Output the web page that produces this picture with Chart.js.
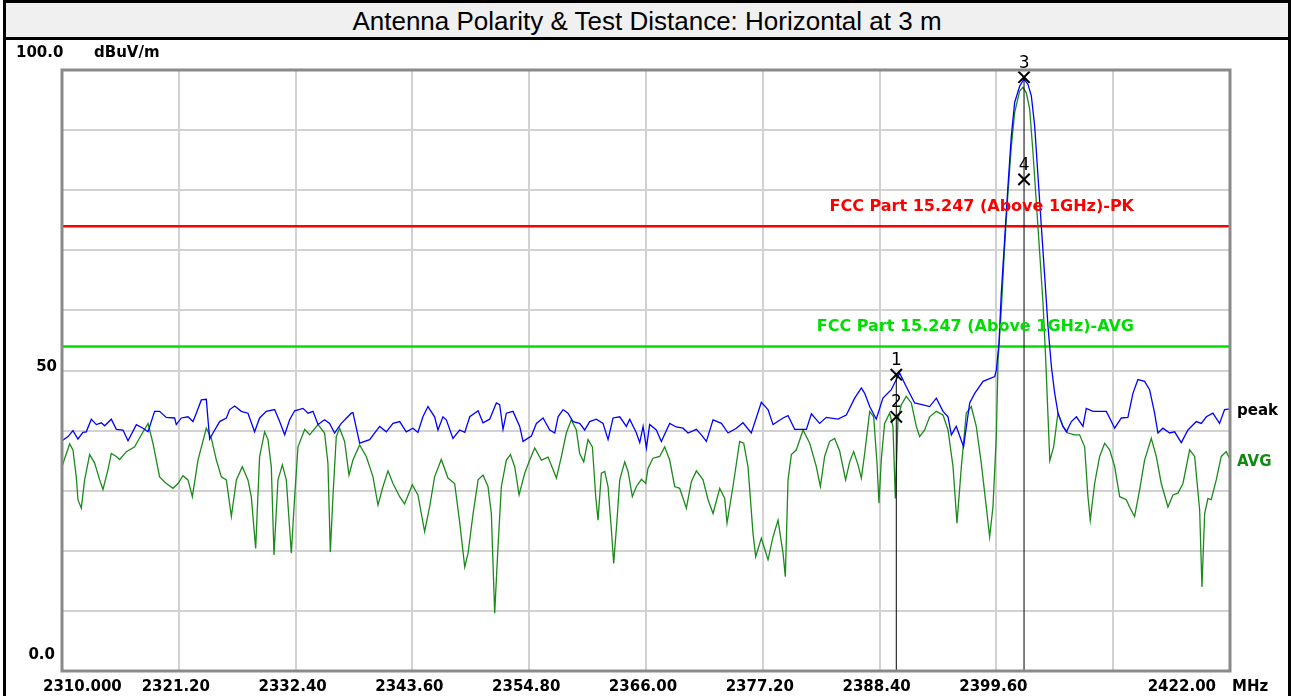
<!DOCTYPE html>
<html>
<head>
<meta charset="utf-8">
<script src="https://cdn.jsdelivr.net/npm/chart.js@4.4.0/dist/chart.umd.min.js"></script>
<style>
  html, body { margin: 0; padding: 0; background: #fff; }
  #wrap { position: relative; width: 1294px; height: 696px; overflow: hidden; }
  #chart { position: absolute; left: 0; top: 0; }
  #frame { position: absolute; left: 3px; top: 0; width: 1282px; height: 710px; border: 3px solid #000; pointer-events: none; }
  #title { position: absolute; left: 6px; top: 3px; width: 1282px; height: 34px; background: #f0f0f0; border-bottom: 3px solid #000;
           font: 26px "Liberation Sans", Arial, sans-serif; text-align: center; line-height: 37px; color: #000; }
</style>
</head>
<body>
<div id="wrap">
  <canvas id="chart" width="1294" height="696"></canvas>
  <div id="title">Antenna Polarity &amp; Test Distance: Horizontal at 3 m</div>
  <div id="frame"></div>
</div>
<script>
// frequency axis (MHz)
const xTickValues = [2310, 2321.2, 2332.4, 2343.6, 2354.8, 2366, 2377.2, 2388.4, 2399.6, 2410.8, 2422];
const xTickLabels = ['2310.000', '2321.20', '2332.40', '2343.60', '2354.80', '2366.00', '2377.20', '2388.40', '2399.60', '', '2422.00'];
const xUnit = 'MHz';
const yUnit = 'dBuV/m';
const yLabelValues = [100, 50, 0];
const yLabelTexts = ['100.0', '50', '0.0'];

// peak trace
const peakFreq = [2310.00,2310.58,2311.05,2311.53,2312.01,2312.33,2312.81,2313.29,2313.77,2314.09,2314.73,2315.21,2315.85,2316.33,2317.13,2317.77,2318.25,2318.88,2319.36,2320.00,2320.80,2320.96,2321.44,2322.08,2322.56,2322.88,2323.36,2323.84,2324.00,2324.16,2324.48,2325.12,2325.76,2326.08,2326.56,2327.19,2327.83,2328.47,2328.95,2329.59,2330.39,2330.87,2331.35,2331.83,2332.31,2333.11,2333.59,2334.07,2334.55,2335.18,2335.66,2336.14,2336.78,2337.74,2337.90,2338.54,2339.50,2340.46,2341.10,2341.74,2342.38,2343.01,2343.65,2344.13,2344.61,2345.09,2345.73,2346.05,2346.53,2346.85,2347.49,2348.13,2348.62,2349.10,2349.90,2350.37,2351.01,2351.65,2351.97,2352.29,2352.61,2353.25,2353.89,2354.21,2355.01,2355.49,2356.13,2356.77,2357.25,2357.57,2358.05,2358.52,2359.00,2359.64,2360.12,2360.60,2361.24,2361.88,2362.36,2362.84,2363.48,2364.12,2364.44,2365.08,2365.40,2365.72,2366.04,2366.35,2366.99,2367.47,2368.27,2368.91,2369.55,2370.03,2370.83,2371.31,2371.79,2372.43,2373.23,2373.87,2374.66,2375.30,2376.10,2377.06,2377.70,2378.18,2379.14,2379.62,2380.26,2381.38,2381.86,2382.65,2383.29,2384.41,2385.21,2386.01,2386.65,2386.97,2387.45,2388.08,2388.72,2389.52,2390.32,2390.96,2391.76,2392.56,2393.20,2393.84,2394.48,2394.96,2395.28,2395.75,2396.45,2397.04,2397.52,2398.32,2399.44,2399.60,2399.85,2400.07,2400.39,2400.71,2401.03,2401.35,2401.83,2402.25,2402.63,2402.95,2403.27,2403.59,2403.91,2404.23,2404.55,2404.87,2405.19,2405.51,2405.99,2406.31,2406.79,2407.27,2407.90,2408.22,2408.86,2409.50,2410.14,2410.46,2410.94,2411.58,2412.21,2412.69,2413.17,2413.81,2414.29,2414.77,2415.09,2415.57,2416.21,2416.69,2417.33,2417.97,2418.77,2419.25,2419.73,2420.36,2421.00,2421.48,2422.00];
const peakLevel = [38.3,39.0,40.0,38.6,39.7,39.8,41.9,41.0,41.3,40.8,41.9,40.2,40.1,38.3,41.0,40.4,39.8,43.2,43.2,42.2,42.1,41.0,42.1,42.3,41.5,42.9,45.1,45.2,41.8,38.6,39.6,41.5,42.1,43.5,44.1,43.2,42.9,39.8,42.1,43.2,43.5,41.5,39.3,41.8,43.3,43.7,42.9,43.2,41.0,41.8,41.2,39.6,41.2,42.9,43.0,37.9,38.5,40.7,39.8,41.2,41.5,39.8,40.4,39.7,42.3,44.0,42.3,40.1,42.3,41.8,38.7,40.1,39.7,42.3,43.3,41.3,41.9,44.6,44.3,40.2,42.9,43.2,40.7,38.2,39.1,41.2,42.1,40.1,39.6,42.3,43.5,42.9,41.5,41.2,40.1,41.5,41.9,41.2,38.5,42.1,42.3,40.7,41.9,39.6,38.0,40.7,37.1,41.0,40.1,38.2,41.2,40.6,40.4,39.6,40.2,39.3,38.2,41.8,41.2,39.6,40.4,41.3,39.6,44.7,43.5,41.0,42.1,42.5,40.2,40.2,42.8,41.2,42.2,41.9,42.6,45.4,47.1,46.2,44.0,41.9,45.4,46.8,49.6,47.3,44.6,44.3,44.0,45.4,43.2,42.3,39.3,40.7,37.3,44.6,46.2,48.2,49.0,50.1,54.6,62.9,71.8,80.7,89.0,94.6,97.3,98.5,97.6,95.7,90.7,82.3,74.0,65.7,57.3,50.7,46.2,42.9,40.7,39.8,41.5,42.3,40.7,43.7,43.2,43.2,43.2,42.1,40.4,42.1,42.2,46.2,48.5,48.2,46.8,42.9,39.6,40.4,39.6,39.8,38.0,40.1,41.5,41.2,42.3,42.9,41.2,43.5,43.6];

// average trace
const avgFreq = [2310.00,2310.42,2310.74,2311.05,2311.37,2311.53,2311.85,2312.17,2312.65,2313.13,2313.61,2313.93,2314.41,2314.73,2315.21,2315.53,2316.17,2316.97,2317.61,2318.25,2318.72,2319.36,2320.00,2320.64,2321.12,2321.60,2322.08,2322.50,2323.04,2323.84,2324.32,2324.80,2325.28,2325.76,2326.24,2326.72,2327.29,2327.83,2328.15,2328.57,2328.95,2329.43,2329.75,2330.07,2330.33,2330.71,2331.13,2331.51,2331.99,2332.31,2332.63,2333.27,2333.75,2334.55,2335.18,2335.50,2335.73,2335.98,2336.30,2336.62,2337.10,2337.52,2337.90,2338.54,2339.18,2339.82,2340.30,2340.78,2341.26,2341.74,2342.38,2342.85,2343.59,2344.13,2344.77,2345.25,2345.73,2346.37,2347.01,2347.65,2348.13,2348.62,2348.94,2349.42,2349.90,2350.37,2350.85,2351.17,2351.49,2351.81,2352.13,2352.61,2353.00,2353.41,2353.83,2354.37,2354.85,2355.33,2355.97,2356.61,2357.41,2357.89,2358.36,2358.84,2359.32,2359.64,2360.03,2360.44,2360.86,2361.18,2361.40,2361.72,2362.04,2362.36,2362.68,2362.90,2363.22,2363.48,2363.96,2364.28,2364.69,2365.08,2365.56,2365.97,2366.19,2366.67,2367.31,2367.79,2368.27,2368.75,2369.23,2369.87,2370.35,2370.83,2371.47,2371.95,2372.43,2373.07,2373.55,2373.77,2374.34,2374.98,2375.37,2375.78,2376.26,2376.52,2377.06,2377.70,2378.18,2378.66,2379.14,2379.36,2379.62,2379.94,2380.42,2381.06,2381.70,2382.33,2382.72,2383.13,2383.61,2384.09,2384.57,2385.14,2385.53,2385.91,2386.33,2386.65,2386.97,2387.45,2387.83,2388.15,2388.34,2388.56,2388.88,2389.36,2389.68,2389.91,2390.16,2390.48,2390.96,2391.44,2391.92,2392.24,2392.72,2393.20,2393.84,2394.48,2394.96,2395.44,2395.82,2396.24,2396.71,2397.19,2397.67,2398.15,2398.63,2398.95,2399.27,2399.59,2399.76,2400.07,2400.39,2400.71,2401.03,2401.35,2401.83,2402.15,2402.47,2402.79,2403.11,2403.43,2403.75,2404.07,2404.33,2404.72,2405.09,2405.50,2405.98,2406.46,2407.10,2407.58,2408.06,2408.38,2408.60,2409.02,2409.50,2409.98,2410.46,2410.94,2411.42,2412.06,2412.37,2412.85,2413.33,2413.81,2414.45,2414.93,2415.41,2416.05,2416.53,2417.01,2417.49,2418.13,2418.61,2419.09,2419.31,2419.57,2419.88,2420.20,2420.68,2421.16,2421.64,2422.00];
const avgLevel = [34.0,36.2,37.8,36.8,32.3,28.5,27.1,31.8,36.0,34.6,31.8,30.2,33.5,36.2,35.7,35.2,36.5,37.3,39.3,41.2,37.9,32.3,31.2,30.4,31.2,32.5,31.8,29.0,35.1,40.4,38.7,35.1,32.3,31.8,25.7,31.8,34.0,31.8,29.0,20.4,35.7,39.8,38.5,34.0,19.3,31.8,34.3,31.8,19.6,29.0,37.3,40.2,39.3,41.0,39.6,34.6,19.8,29.0,39.0,40.4,38.2,32.6,35.1,37.6,35.7,32.3,27.6,30.7,33.3,31.2,29.0,27.8,31.0,29.3,23.2,27.3,32.3,35.2,32.1,31.2,24.8,17.3,19.6,26.2,31.8,32.6,30.7,26.2,9.6,20.7,30.7,35.1,36.0,34.0,29.3,32.9,35.1,37.1,35.1,35.6,32.1,35.7,39.6,41.8,40.1,36.2,34.8,38.5,37.3,29.0,25.1,32.9,33.2,30.7,23.5,17.9,25.1,31.8,34.8,33.2,29.0,30.7,31.9,31.2,33.7,35.4,35.7,37.3,35.1,30.7,30.4,27.1,31.5,33.3,31.8,28.5,26.2,30.4,28.7,24.6,30.7,38.2,37.9,34.0,22.9,19.0,22.1,18.5,22.3,25.1,19.6,15.7,31.8,36.0,36.8,40.1,37.9,34.0,30.7,35.7,38.2,38.7,36.6,31.8,34.8,36.5,34.3,32.1,36.2,43.2,42.3,34.6,27.9,35.1,41.2,42.9,40.7,28.7,41.8,44.3,45.7,44.6,40.7,39.0,40.1,42.3,43.2,42.6,40.1,34.0,24.6,34.0,42.9,44.0,40.7,34.6,27.3,22.3,27.3,39.0,51.8,60.1,70.7,79.6,87.3,92.9,96.5,97.1,96.2,93.5,86.2,77.9,69.6,61.2,51.8,35.0,37.3,42.9,40.7,39.6,39.3,39.3,37.3,29.0,25.1,31.2,35.7,37.9,36.8,34.0,29.0,28.5,27.3,25.7,30.1,35.1,38.7,35.7,31.2,27.3,29.3,29.6,31.2,36.8,35.7,26.8,14.0,26.2,28.7,28.5,31.8,35.7,36.5,35.2];

// limit lines
const limitFreq = [2310, 2422];
const pkLimit = 74;
const avgLimit = 54;
const pkLimitName = 'FCC Part 15.247 (Above 1GHz)-PK';
const avgLimitName = 'FCC Part 15.247 (Above 1GHz)-AVG';

// markers
const markerNames = ['1', '2', '3', '4'];
const markerFreq = [2390.0, 2390.0, 2402.25, 2402.25];
const markerLevel = [49.3, 42.3, 98.8, 81.8];

const toXY = (xs, ys) => xs.map((v, i) => ({ x: v, y: ys[i] }));

// one vertical line per marker frequency, up to the highest marker there
const markerLines = [...new Set(markerFreq)].map(f => {
  const top = Math.max(...markerLevel.filter((_, i) => markerFreq[i] === f));
  return { label: 'mk ' + f, data: [{ x: f, y: 0 }, { x: f, y: top }], borderColor: '#000', borderWidth: 1, pointRadius: 0 };
});

const decor = {
  id: 'decor',
  afterDatasetsDraw(chart) {
    const { ctx, chartArea: a, scales: { x, y } } = chart;
    ctx.save();
    ctx.strokeStyle = '#8a8a8a';
    ctx.lineWidth = 3;
    ctx.strokeRect(a.left, a.top, a.right - a.left, a.bottom - a.top);

    // limit names
    ctx.font = 'bold 16px "DejaVu Sans"';
    ctx.textAlign = 'right';
    ctx.textBaseline = 'middle';
    const lx = a.right - 96;
    ctx.fillStyle = '#ff0000';
    ctx.fillText(pkLimitName, lx, y.getPixelForValue(pkLimit) - 19);
    ctx.fillStyle = '#00dd00';
    ctx.fillText(avgLimitName, lx, y.getPixelForValue(avgLimit) - 20);

    // marker numbers
    ctx.font = '17px "DejaVu Sans"';
    ctx.textAlign = 'center';
    ctx.fillStyle = '#000';
    markerNames.forEach((n, i) => {
      ctx.fillText(n, x.getPixelForValue(markerFreq[i]), y.getPixelForValue(markerLevel[i]) - 14);
    });

    // trace names at right end
    ctx.font = 'bold 15px "DejaVu Sans"';
    ctx.textAlign = 'left';
    ctx.fillStyle = '#000';
    ctx.fillText('peak', a.right + 7, y.getPixelForValue(peakLevel[peakLevel.length - 1]) + 2);
    ctx.fillStyle = '#128a12';
    ctx.fillText('AVG', a.right + 7, y.getPixelForValue(avgLevel[avgLevel.length - 1]) + 3);

    // y labels
    ctx.fillStyle = '#000';
    yLabelValues.forEach((v, i) => {
      let py = y.getPixelForValue(v);
      if (v === 100) {
        ctx.textAlign = 'left';
        ctx.fillText(yLabelTexts[i], 16, py - 17);
        ctx.fillText(yUnit, 94, py - 17);
      } else if (v === 0) {
        ctx.textAlign = 'right';
        ctx.fillText(yLabelTexts[i], a.left - 7, py - 16);
      } else {
        ctx.textAlign = 'right';
        ctx.fillText(yLabelTexts[i], a.left - 5, py - 3);
      }
    });

    // x labels
    const ly = a.bottom + 16;
    xTickValues.forEach((v, i) => {
      const px = x.getPixelForValue(v);
      if (i === 0) { ctx.textAlign = 'left'; ctx.fillText(xTickLabels[i], px - 19, ly); }
      else if (i === xTickValues.length - 1) { ctx.textAlign = 'right'; ctx.fillText(xTickLabels[i], px - 14, ly); }
      else { ctx.textAlign = 'center'; ctx.fillText(xTickLabels[i], px - 3, ly); }
    });
    ctx.textAlign = 'left';
    ctx.fillText(xUnit, a.right + 2, ly);
    ctx.restore();
  }
};

new Chart(document.getElementById('chart'), {
  type: 'line',
  data: {
    datasets: [
      { label: 'markers', data: toXY(markerFreq, markerLevel), showLine: false, pointStyle: 'crossRot',
        pointRadius: 8, pointBorderWidth: 2, borderColor: '#000', backgroundColor: '#000' },
      ...markerLines,
      { label: 'peak', data: toXY(peakFreq, peakLevel), borderColor: '#0000ff', borderWidth: 1.3, pointRadius: 0 },
      { label: 'AVG', data: toXY(avgFreq, avgLevel), borderColor: '#1a8a1a', borderWidth: 1.3, pointRadius: 0 },
      { label: 'PK limit', data: limitFreq.map(f => ({ x: f, y: pkLimit })), borderColor: '#ff0000', borderWidth: 2.5, pointRadius: 0 },
      { label: 'AVG limit', data: limitFreq.map(f => ({ x: f, y: avgLimit })), borderColor: '#00e000', borderWidth: 2.5, pointRadius: 0 }
    ]
  },
  options: {
    responsive: false,
    animation: false,
    devicePixelRatio: 1,
    layout: { padding: { left: 62, top: 70, right: 64, bottom: 25 } },
    plugins: { legend: { display: false }, tooltip: { enabled: false } },
    scales: {
      x: {
        type: 'linear', min: 2310, max: 2422,
        afterBuildTicks: s => { s.ticks = xTickValues.map(v => ({ value: v })); },
        ticks: { display: false },
        grid: { color: '#d2d2d2', lineWidth: 2, drawTicks: false },
        border: { display: false }
      },
      y: {
        min: 0, max: 100,
        ticks: { display: false, stepSize: 10 },
        grid: { color: '#d2d2d2', lineWidth: 2, drawTicks: false },
        border: { display: false }
      }
    }
  },
  plugins: [decor]
});
</script>
</body>
</html>
